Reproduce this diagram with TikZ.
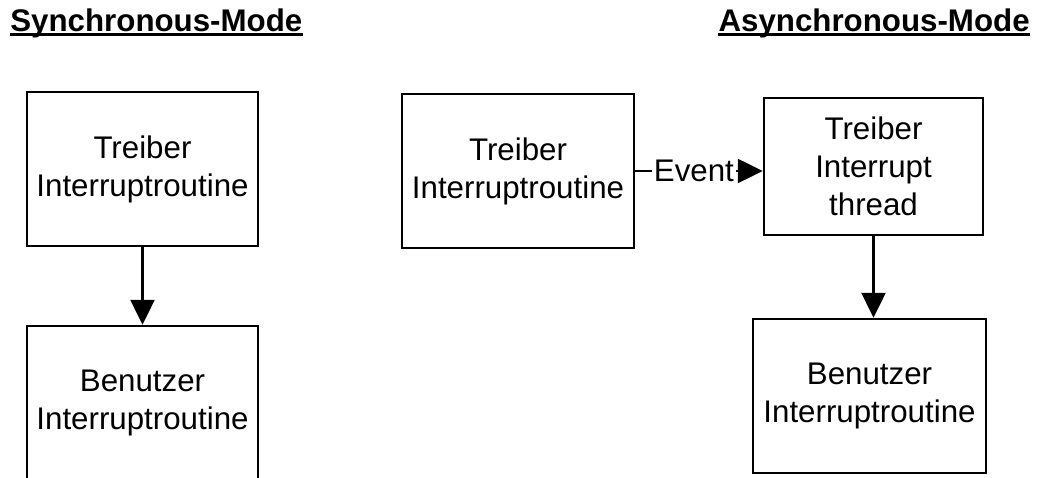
\documentclass[tikz,border=0pt]{standalone}
\usepackage{fontspec}
\setmainfont{Liberation Sans}
\usetikzlibrary{arrows.meta}

\begin{document}
\begin{tikzpicture}[
	box/.style={draw, line width=1.4pt, inner sep=0pt, align=center, font=\fontsize{17.8}{21.6}\selectfont},
	title/.style={anchor=base west, inner sep=0pt, font=\fontsize{17.8}{21.6}\selectfont\bfseries},
	flow/.style={line width=1.4pt, -{Triangle[length=5mm,width=4.8mm]}}]
	\useasboundingbox (0,0) rectangle (20.76,9.56);
	\node[title] (sync) at (.2,8.92) {Synchronous-Mode};
	\node[title, anchor=base east] (async) at (20.6,8.92) {Asynchronous-Mode};
	\draw[line width=1.7pt] ([yshift=-1.6pt]sync.base west) -- ([yshift=-1.6pt]sync.base east);
	\draw[line width=1.7pt] ([yshift=-1.6pt]async.base west) -- ([yshift=-1.6pt]async.base east);
	\node[box, minimum width=4.62cm, minimum height=3.08cm] (treiber) at (2.85,6.18) {Treiber\\Interruptroutine};
	\node[box, minimum width=4.62cm, minimum height=3.08cm] (benutzer) at (2.85,1.50) {Benutzer\\Interruptroutine};
	\node[box, minimum width=4.64cm, minimum height=3.08cm] (isr) at (10.36,6.14) {Treiber\\Interruptroutine};
	\node[box, minimum width=4.38cm, minimum height=2.74cm] (ist) at (17.47,6.23) {Treiber\\Interrupt\\thread};
	\node[box, minimum width=4.66cm, minimum height=3.08cm] (user) at (17.39,1.64) {Benutzer\\Interruptroutine};
	\draw[flow] (treiber) -- (benutzer);
	\draw[flow] (isr.east) -- node[pos=.46, fill=white, inner sep=1pt, font=\fontsize{17.8}{21.6}\selectfont] (event) {Event} (isr.east -| ist.west);
	\draw[flow] (ist.south) -- (ist.south |- user.north);
\end{tikzpicture}
\end{document}
